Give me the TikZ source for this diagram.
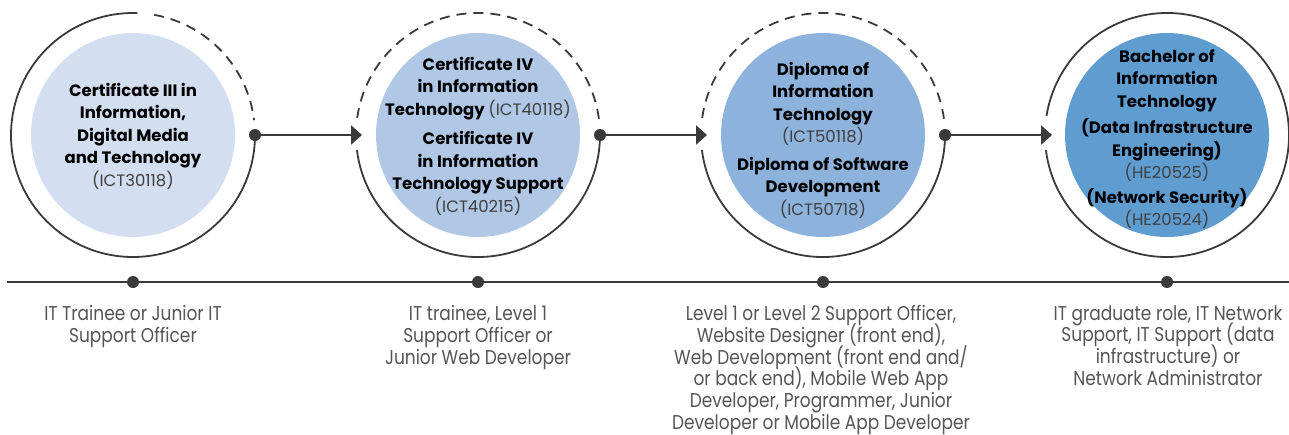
\documentclass[tikz,border=0pt]{standalone}
\usepackage{fontspec}
\setmainfont{Poppins}
\newfontfamily\lblfont{Poppins}[FakeStretch=0.85]
\usetikzlibrary{arrows.meta}
\definecolor{ink}{HTML}{3A3A3A}
\definecolor{fillA}{HTML}{D3DFF1}
\definecolor{fillB}{HTML}{B0C8E6}
\definecolor{fillC}{HTML}{8DB3DD}
\definecolor{fillD}{HTML}{5F9DD1}
\definecolor{lbl}{HTML}{555555}
\definecolor{codec}{HTML}{3F3F3F}
\newcommand{\qcode}[1]{{\mdseries\color{codec}#1}}
\newcommand{\tightls}{\lineskiplimit=-30pt\relax}
\begin{document}
\begin{tikzpicture}[x=1pt,y=1pt,
 ring/.style={draw=ink, line width=1.8pt},
 dashring/.style={ring, dash pattern=on 10pt off 7pt},
 disc/.style={circle, minimum size=204pt, inner sep=0pt},
 dotnode/.style={circle, fill=ink, inner sep=0pt, minimum size=12pt},
 conn/.style={draw=ink, line width=2.6pt, -{Triangle[length=11pt,width=19pt]}},
 tline/.style={draw=ink, line width=2.6pt},
 ctext/.style={align=center, font=\tightls\fontsize{16.5}{22.5}\selectfont\bfseries, text=black, inner sep=0pt},
 lbltext/.style={align=center, font=\tightls\lblfont\fontsize{20}{21.8}\selectfont, text=lbl, inner sep=0pt, anchor=north},
]
\useasboundingbox (0,0) rectangle (1289,-434);
% centres
\coordinate (o1) at (133,-135);
\coordinate (o2) at (478,-135);
\coordinate (o3) at (823,-135);
\coordinate (o4) at (1167,-135);
% discs
\node[disc, fill=fillA] (c1) at (o1) {};
\node[disc, fill=fillB] (c2) at (o2) {};
\node[disc, fill=fillC] (c3) at (o3) {};
\node[disc, fill=fillD] (c4) at (o4) {};
% rings
\draw[ring] (o1) ++(0:122pt) arc[start angle=0, end angle=-272, radius=122pt];
\draw[dashring] (o1) ++(80:122pt) arc[start angle=80, end angle=7, radius=122pt];
\draw[ring] (o2) ++(187:122pt) arc[start angle=187, end angle=360, radius=122pt];
\draw[dashring] (o2) ++(172:122pt) arc[start angle=172, end angle=6, radius=122pt];
\draw[ring] (o3) ++(187:122pt) arc[start angle=187, end angle=360, radius=122pt];
\draw[dashring] (o3) ++(172:122pt) arc[start angle=172, end angle=6, radius=122pt];
\draw[ring] (o4) ++(187:122pt) arc[start angle=187, end angle=531, radius=122pt];
% ring dots and arrow tips
\node[dotnode] (d1) at ([xshift=122pt]o1) {};
\node[dotnode] (d2) at ([xshift=122pt]o2) {};
\node[dotnode] (d3) at ([xshift=122pt]o3) {};
\coordinate (p2) at ([xshift=-116pt]o2);
\coordinate (p3) at ([xshift=-116pt]o3);
\coordinate (p4) at ([xshift=-115pt]o4);
\draw[conn] (d1) -- (p2);
\draw[conn] (d2) -- (p3);
\draw[conn] (d3) -- (p4);
% circle texts
\node[ctext] (t1) at (133,-136) {Certificate III in\\Information,\\Digital Media\\and Technology\\\qcode{(ICT30118)}};
\node[ctext] (t2) at (478,-136) {Certificate IV\\in Information\\Technology \qcode{(ICT40118)}\\[7pt]Certificate IV\\in Information\\Technology Support\\\qcode{(ICT40215)}};
\node[ctext] (t3) at (823,-140) {Diploma of\\Information\\Technology\\\qcode{(ICT50118)}\\[5pt]Diploma of Software\\Development\\\qcode{(ICT50718)}};
\node[ctext] (t4) at (1167,-139) {Bachelor of\\Information\\Technology\\[4pt](Data Infrastructure\\Engineering)\\\qcode{(HE20525)}\\[2pt](Network Security)\\\qcode{(HE20524)}};
% timeline
\coordinate (tl0) at (7,-282);
\coordinate (tl1) at (1289,-282);
\draw[tline] (tl0) -- (tl1);
\node[dotnode] (m1) at (133,-282) {};
\node[dotnode] (m2) at (478,-282) {};
\node[dotnode] (m3) at (823,-282) {};
\node[dotnode] (m4) at (1167,-282) {};
% labels
\node[lbltext] (l1) at (133,-305) {IT Trainee or Junior IT\\Support Officer};
\node[lbltext] (l2) at (478,-305) {IT trainee, Level 1\\Support Officer or\\Junior Web Developer};
\node[lbltext] (l3) at (821,-305) {Level 1 or Level 2 Support Officer,\\Website Designer (front end),\\Web Development (front end and/\\or back end), Mobile Web App\\Developer, Programmer, Junior\\Developer or Mobile App Developer};
\node[lbltext] (l4) at (1168,-305) {IT graduate role, IT Network\\Support, IT Support (data\\infrastructure) or\\Network Administrator};
\end{tikzpicture}
\end{document}
